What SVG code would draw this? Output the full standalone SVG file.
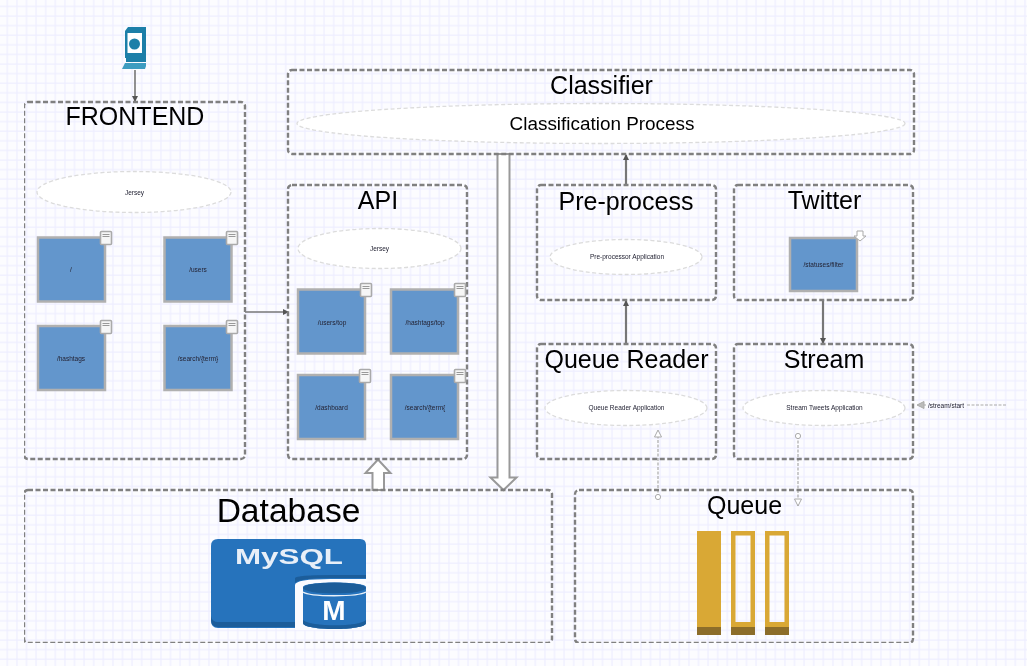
<svg xmlns="http://www.w3.org/2000/svg" width="1027" height="666" viewBox="0 0 1027 666">
<style>
text{font-family:"Liberation Sans",Arial,sans-serif;text-anchor:middle;fill:#000}
.box{fill:none;stroke:#808080;stroke-width:2.4;stroke-dasharray:5 2.5}
.ell{fill:#fff;stroke:#dcdcdc;stroke-width:1.3;stroke-dasharray:4 2.5}
.sq{fill:#6496cc;stroke:#b0b0b0;stroke-width:2.5}
.t{font-size:6.5px;fill:#223}
.note{fill:#f6f6f6;stroke:#aaa;stroke-width:1.6}
.nl{stroke:#999;stroke-width:1}
.con{fill:none;stroke:#777;stroke-width:1.6}
.con2{fill:none;stroke:#777;stroke-width:2.2}
.dash{fill:none;stroke:#aaa;stroke-width:1.2;stroke-dasharray:3 1.5}
.big{fill:#fff;stroke:#999;stroke-width:2}
.gold{fill:#d9a834}.dark{fill:#8c6d29}
</style>
<defs>
<filter id="soft" x="0" y="0" width="1" height="1"><feGaussianBlur stdDeviation="0.4"/></filter>
<pattern id="grid" width="9.6" height="9.6" patternUnits="userSpaceOnUse" x="2.5" y="1.5">
<rect width="9.6" height="9.6" fill="#fcfcff"/>
<path d="M4.8 0V9.6M0 4.8H9.6" stroke="#eeeeff" stroke-width="1.2" fill="none"/>
</pattern>
<marker id="ah" markerWidth="6" markerHeight="6" refX="5" refY="3" orient="auto" markerUnits="userSpaceOnUse"><path d="M0 0L6 3L0 6Z" fill="#555"/></marker>
<marker id="oh" markerWidth="9" markerHeight="8" refX="8" refY="4" orient="auto" markerUnits="userSpaceOnUse"><path d="M1 0.500L8 4L1 7.500Z" fill="#fff" stroke="#aaa"/></marker>
<marker id="gh" markerWidth="9" markerHeight="8" refX="8" refY="4" orient="auto" markerUnits="userSpaceOnUse"><path d="M1 0.500L8 4L1 7.500Z" fill="#bbb" stroke="#aaa"/></marker>
<marker id="oc" markerWidth="8" markerHeight="8" refX="4" refY="4" markerUnits="userSpaceOnUse"><circle cx="4" cy="4" r="2.600" fill="#fff" stroke="#aaa"/></marker>
<g id="nt"><rect x="-5.500" y="-6.500" width="11" height="13" rx="1" class="note"/><path d="M-3.500-3.500H3.500M-3.500-1.500H3.500" class="nl"/></g>
</defs>
<rect width="1027" height="666" fill="url(#grid)"/>
<g filter="url(#soft)">
<g id="connectors">
<path class="con" d="M135 70V101" marker-end="url(#ah)"/>
<path class="con" d="M245 312H288" marker-end="url(#ah)"/>
<path class="con2" d="M626 185V155" marker-end="url(#ah)"/>
<path class="con2" d="M626 344V301" marker-end="url(#ah)"/>
<path class="con2" d="M823 300V343" marker-end="url(#ah)"/>
<path class="dash" d="M658 497V430" marker-start="url(#oc)" marker-end="url(#oh)"/>
<path class="dash" d="M798 436V506" marker-start="url(#oc)" marker-end="url(#oh)"/>
<path class="dash" d="M1006 405H966"/>
<path class="dash" d="M926 405H917" marker-end="url(#gh)"/>
<path class="big" d="M497.500 154H509.500V477.500H516.500L503.500 490L490.500 477.500H497.500Z"/>
<path class="big" d="M372.500 490V473H365.500L378 459.500L390.500 473H384V490Z"/>
</g>

<g id="user"><path d="M125 31L128 27H146V58H125Z" fill="#1a7fa8"/><rect x="127.500" y="33" width="14.500" height="20" fill="#fff"/><circle cx="134.500" cy="44" r="5.500" fill="#1a7fa8"/><path d="M126 56H146V62H126Z" fill="#1a7fa8"/><path d="M125 63H146V66L145 69H122Z" fill="#3c9cc0"/></g>

<g id="frontend"><rect class="box" x="24" y="102" width="221" height="357" rx="4"/><text x="135" y="124.500" font-size="25">FRONTEND</text>
<ellipse class="ell" cx="134" cy="192" rx="97" ry="20.500"/><text class="t" x="134.500" y="194.500">Jersey</text>
<rect class="sq" x="38" y="237.500" width="67" height="64"/><use href="#nt" x="106" y="238"/><text class="t" x="71" y="271.500">/</text>
<rect class="sq" x="164.500" y="237.500" width="67" height="64"/><use href="#nt" x="232" y="238"/><text class="t" x="198" y="271.500">/users</text>
<rect class="sq" x="38" y="326" width="67" height="64"/><use href="#nt" x="106" y="327"/><text class="t" x="71" y="360.500">/hashtags</text>
<rect class="sq" x="164.500" y="326" width="67" height="64"/><use href="#nt" x="232" y="327"/><text class="t" x="198" y="360.500">/search/{term}</text></g>

<g id="classifier"><rect class="box" x="288" y="70" width="626" height="84" rx="4"/><text x="601.500" y="94" font-size="25">Classifier</text>
<ellipse class="ell" cx="601" cy="123.500" rx="304" ry="20"/><text x="602" y="129.500" font-size="18.900">Classification Process</text></g>

<g id="api"><rect class="box" x="288" y="185" width="179" height="274" rx="4"/><text x="378" y="209" font-size="25">API</text>
<ellipse class="ell" cx="379.500" cy="248.500" rx="81.500" ry="20"/><text class="t" x="379.500" y="251">Jersey</text>
<rect class="sq" x="298" y="289.500" width="67" height="64"/><use href="#nt" x="366" y="290"/><text class="t" x="332" y="324.500">/users/top</text>
<rect class="sq" x="391" y="289.500" width="67" height="64"/><use href="#nt" x="460" y="290"/><text class="t" x="425" y="324.500">/hashtags/top</text>
<rect class="sq" x="298" y="375" width="67" height="64"/><use href="#nt" x="365" y="376"/><text class="t" x="331.500" y="410">/dashboard</text>
<rect class="sq" x="391" y="375" width="67" height="64"/><use href="#nt" x="460" y="376"/><text class="t" x="425" y="410">/search/{term{</text></g>

<g id="preprocess"><rect class="box" x="537" y="185" width="179" height="115" rx="4"/><text x="626" y="209.500" font-size="25">Pre-process</text>
<ellipse class="ell" cx="626" cy="257" rx="76" ry="17.500"/><text class="t" x="627" y="259">Pre-processor Application</text></g>

<g id="twitter"><rect class="box" x="734" y="185" width="179" height="115" rx="4"/><text x="824.500" y="209" font-size="25">Twitter</text>
<rect class="sq" x="790" y="238" width="67" height="53"/><path d="M857 231H863V236H866L860 241L854 236H857Z" fill="#fff" stroke="#aaa"/><text class="t" x="823.500" y="267">/statuses/filter</text></g>

<g id="queuereader"><rect class="box" x="537" y="344" width="179" height="115" rx="4"/><text x="626.500" y="367.500" font-size="25">Queue Reader</text>
<ellipse class="ell" cx="626" cy="408" rx="81" ry="17.500"/><text class="t" x="626.500" y="410">Queue Reader Application</text></g>

<g id="stream"><rect class="box" x="734" y="344" width="179" height="115" rx="4"/><text x="824" y="367.500" font-size="25">Stream</text>
<ellipse class="ell" cx="824" cy="408" rx="81" ry="17.500"/><text class="t" x="824.500" y="410">Stream Tweets Application</text></g>

<g id="streamstart"><text class="t" x="946" y="407.500">/stream/start</text></g>

<g id="database"><rect class="box" x="24" y="490" width="528" height="153" rx="4"/><text x="288.500" y="522" font-size="33.600">Database</text>
<path d="M218 539H360Q366 539 366 545V628H218Q211 628 211 620V546Q211 539 218 539Z" fill="#2673bc"/>
<path d="M211 618V620Q211 627 218 627H300V622H218Q212 622 211 616Z" fill="#1c5d9a"/>
<text x="289" y="563.500" font-size="22" font-weight="bold" textLength="108" lengthAdjust="spacingAndGlyphs" style="fill:#e8eff8">MySQL</text>
<path d="M295 630V585Q295 579 331 579H366V630Z" fill="#fbfbff"/>
<path d="M295 578Q297 575 331 575H366V578H331Q300 578 295 583Z" fill="#1c5d9a"/>
<path d="M303 587C303 581 366 581 366 587V623C366 631 303 631 303 623Z" fill="#2673bc"/>
<ellipse cx="334.500" cy="588" rx="31.500" ry="5.500" fill="#1c5d9a"/>
<path d="M303 592C310 597 358 597 366 592" stroke="#fff" stroke-width="1.300" fill="none" opacity=".9"/>
<path d="M303 623C303 631 366 631 366 623V620C360 627 310 627 303 620Z" fill="#1c5d9a"/>
<text x="334" y="620" font-size="28" font-weight="bold" style="fill:#fff">M</text></g>

<g id="queue"><rect class="box" x="575" y="490" width="338" height="153" rx="4"/><text x="744.500" y="514" font-size="25">Queue</text>
<rect class="gold" x="697" y="531" width="24" height="96"/><rect class="dark" x="697" y="627" width="24" height="8"/>
<path class="gold" fill-rule="evenodd" d="M731 531H755V627H731ZM735.500 535.500V622H750.500V535.500Z"/><rect class="dark" x="731" y="627" width="24" height="8"/>
<path class="gold" fill-rule="evenodd" d="M765 531H789V627H765ZM769.500 535.500V622H784.500V535.500Z"/><rect class="dark" x="765" y="627" width="24" height="8"/></g>
</g>
</svg>
